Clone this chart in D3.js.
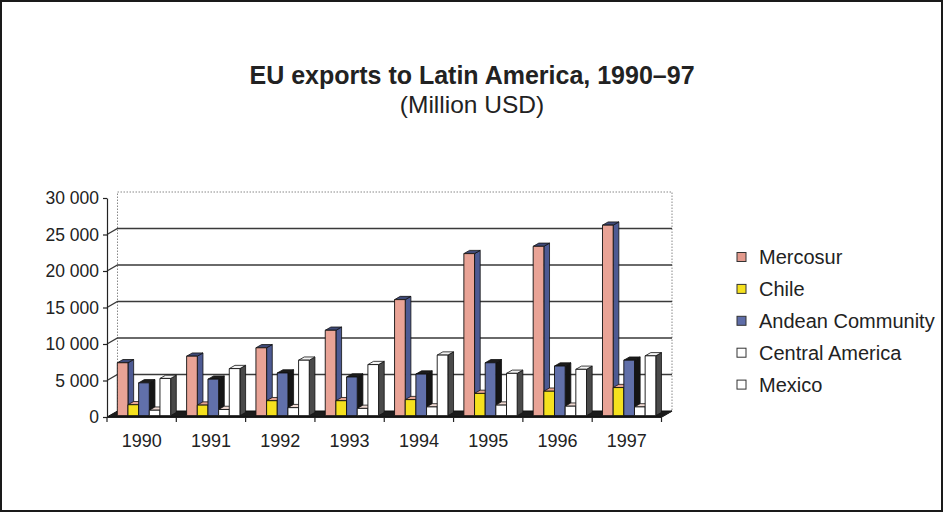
<!DOCTYPE html>
<html>
<head>
<meta charset="utf-8">
<script src="https://cdn.jsdelivr.net/npm/d3@7/dist/d3.min.js"></script>
<style>
  html, body { margin: 0; padding: 0; background: #fff; }
  svg { display: block; }
  text { font-family: "Liberation Sans", Arial, Helvetica, sans-serif; fill: #222; }
</style>
</head>
<body>
<svg id="chart" width="944" height="513"></svg>
<script>
// ---- Data ----
const years = ["1990", "1991", "1992", "1993", "1994", "1995", "1996", "1997"];
const seriesNames = ["Mercosur", "Chile", "Andean Community", "Central America", "Mexico"];
const mercosur = [7250, 8150, 9300, 11700, 15900, 22200, 23200, 26100];
const chile = [1500, 1450, 2050, 2050, 2200, 3050, 3350, 3850];
const andean = [4500, 5000, 5850, 5300, 5700, 7250, 6800, 7600];
const centralAmerica = [750, 850, 1100, 1000, 1200, 1450, 1300, 1200];
const mexico = [5100, 6450, 7600, 7000, 8300, 5800, 6350, 8200];
const yTicks = [0, 5000, 10000, 15000, 20000, 25000, 30000];
const titleText = "EU exports to Latin America, 1990\u201397";
const subtitleText = "(Million USD)";

const seriesValues = [mercosur, chile, andean, centralAmerica, mexico];
const styles = [
  { front: "#e9a396", side: "#4d5a93", top: "#3f4a78", legend: "#e39a8d" },
  { front: "#f5e11e", side: "#b8a414", top: "#e6a593", legend: "#f5e11e" },
  { front: "#6170aa", side: "#151515", top: "#1c1c1c", legend: "#5e6da8" },
  { front: "#ffffff", side: "#3a3a3a", top: "#efd9d2", legend: "#ffffff" },
  { front: "#ffffff", side: "#4a4a4a", top: "#f4f4f4", legend: "#ffffff" }
];

const svg = d3.select("#chart");

// ---- Frame ----
svg.append("rect").attr("x", 1).attr("y", 1).attr("width", 941).attr("height", 510)
  .attr("fill", "#fff").attr("stroke", "#1a1a1a").attr("stroke-width", 2);

// ---- Titles ----
svg.append("text").attr("x", 472).attr("y", 84).attr("text-anchor", "middle")
  .attr("font-size", 25).attr("font-weight", "bold").text(titleText);
svg.append("text").attr("x", 472).attr("y", 113).attr("text-anchor", "middle")
  .attr("font-size", 24.5).text(subtitleText);

// ---- Scales / projection ----
const X0 = 107, X1 = 661.5, Y0 = 417, Y1 = 198;
const DX = 10.5, DY = -6;          // depth offset of the back wall
const x = d3.scaleBand().domain(years).range([X0, X1]).paddingInner(0).paddingOuter(0);
const xs = d3.scaleBand().domain(seriesNames).range([0, x.bandwidth()])
  .paddingInner(0).paddingOuter(0.75);
const y = d3.scaleLinear().domain([0, 30000]).range([Y0, Y1]);
const P = (px, v, d) => [px + d * DX, y(v) + d * DY];

const g = svg.append("g");

// floor
const floorPts = [P(X0, 0, 0), P(X1, 0, 0), P(X1, 0, 1), P(X0, 0, 1)];
g.append("path").attr("d", d3.line()(floorPts) + "Z").attr("fill", "#1b1b1b").attr("stroke", "#111");

// back wall outline (dotted)
const wallOutline = [P(X0, 0, 1), P(X0, 30000, 1), P(X1, 30000, 1), P(X1, 0, 1)];
g.append("path").attr("d", d3.line()(wallOutline)).attr("fill", "none")
  .attr("stroke", "#888").attr("stroke-width", 1).attr("stroke-dasharray", "1.5,1.5");

// gridlines: left-wall diagonal + back wall horizontal
yTicks.filter(t => t > 0 && t < 30000).forEach(t => {
  const pts = [P(X0, t, 0), P(X0, t, 1), P(X1, t, 1)];
  g.append("path").attr("d", d3.line()(pts)).attr("fill", "none")
    .attr("stroke", "#3a3a3a").attr("stroke-width", 1.3);
});

// ---- Bars ----
const dF = 0.22, dB = 0.76;
const bars = g.append("g");
years.forEach((yr, i) => {
  seriesNames.forEach((s, j) => {
    const v = seriesValues[j][i];
    const st = styles[j];
    const xl = x(yr) + xs(s), xr = xl + xs.bandwidth();
    const front = [P(xl, 0, dF), P(xr, 0, dF), P(xr, v, dF), P(xl, v, dF)];
    const side = [P(xr, 0, dF), P(xr, 0, dB), P(xr, v, dB), P(xr, v, dF)];
    const top = [P(xl, v, dF), P(xr, v, dF), P(xr, v, dB), P(xl, v, dB)];
    bars.append("path").attr("d", d3.line()(side) + "Z").attr("fill", st.side)
      .attr("stroke", "#111").attr("stroke-width", 0.8);
    bars.append("path").attr("d", d3.line()(top) + "Z").attr("fill", st.top)
      .attr("stroke", "#111").attr("stroke-width", 0.8);
    bars.append("path").attr("d", d3.line()(front) + "Z").attr("fill", st.front)
      .attr("stroke", "#111").attr("stroke-width", 0.9);
  });
});

// ---- Axes ----
const yAxis = d3.axisLeft(y).tickValues(yTicks).tickSize(4).tickSizeOuter(0).tickPadding(4)
  .tickFormat(d => d3.format(",")(d).replace(/,/g, " "));
const ya = svg.append("g").attr("transform", `translate(${X0},0)`).call(yAxis);
ya.select(".domain").attr("stroke", "#222").attr("stroke-width", 1.2);
ya.selectAll(".tick line").attr("stroke", "#222").attr("stroke-width", 1.2);
ya.selectAll("text").attr("font-size", 17.5).attr("fill", "#222")
  .style("font-family", "'Liberation Sans', Arial, sans-serif");

const xAxis = d3.axisBottom(x).tickSize(0).tickPadding(17);
const xa = svg.append("g").attr("transform", `translate(0,${Y0})`).call(xAxis);
xa.select(".domain").attr("stroke", "#222").attr("stroke-width", 1.2);
xa.selectAll("text").attr("font-size", 18).attr("fill", "#222")
  .style("font-family", "'Liberation Sans', Arial, sans-serif");
// boundary ticks
const bounds = years.map(d => x(d)).concat([X1]);
xa.selectAll(".btick").data(bounds).enter().append("line").attr("class", "btick")
  .attr("x1", d => d).attr("x2", d => d).attr("y1", 0).attr("y2", 5)
  .attr("stroke", "#222").attr("stroke-width", 1.2);
// right floor edge
g.append("path").attr("d", d3.line()([P(X1, 0, 0), P(X1, 0, 1)])).attr("stroke", "#222").attr("stroke-width", 1.2);

// ---- Legend ----
const legend = svg.append("g").attr("transform", "translate(737,257)");
seriesNames.forEach((s, j) => {
  const row = legend.append("g").attr("transform", `translate(0,${j * 31.9})`);
  row.append("rect").attr("x", 0).attr("y", -4.5).attr("width", 9).attr("height", 9)
    .attr("fill", styles[j].legend).attr("stroke", "#333").attr("stroke-width", 1);
  row.append("text").attr("x", 22).attr("y", 0).attr("dy", "0.36em")
    .attr("font-size", 20).text(s);
});
</script>
</body>
</html>
